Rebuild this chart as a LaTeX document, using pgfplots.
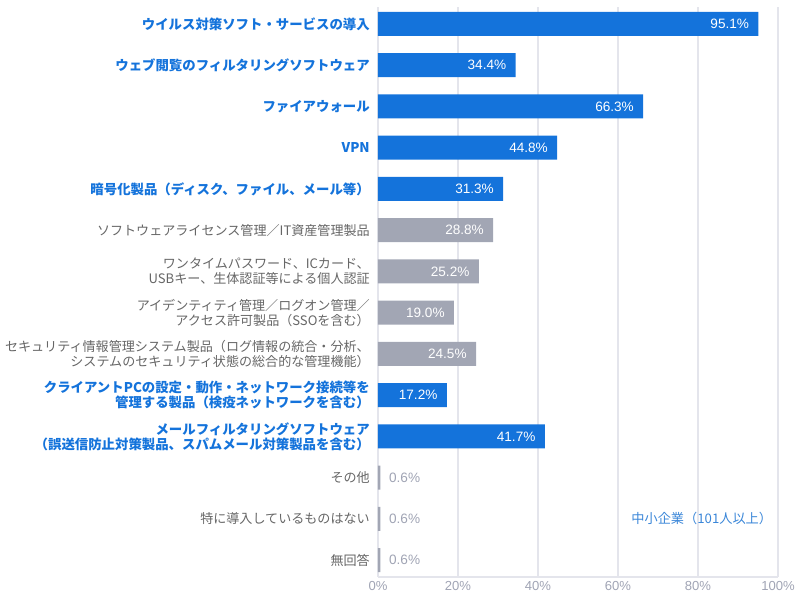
\documentclass[border=0pt]{standalone}
\usepackage{pgfplots}
\pgfplotsset{compat=1.18}
\usepackage{fontspec}
\setmainfont{Noto Sans CJK JP}
\newfontfamily\num{Liberation Sans}
\definecolor{jblue}{HTML}{1473DB}
\definecolor{jgray}{HTML}{A2A6B4}
\definecolor{lgray}{HTML}{666666}
\definecolor{tgray}{HTML}{A0A4B4}
\definecolor{gridc}{HTML}{E4E5EC}
\definecolor{annot}{HTML}{3A86D8}
\newcommand{\B}[1]{\textcolor{jblue}{\fontsize{10.05}{11.3}\selectfont\bfseries #1}}
\newcommand{\G}[1]{\textcolor{lgray}{#1}}
\begin{document}
\begin{tikzpicture}
\useasboundingbox (0pt,0pt) rectangle (600pt,450pt);
\begin{axis}[
  at={(283.5pt,17.25pt)}, anchor=south west,
  scale only axis, width=300pt, height=427.5pt,
  xmin=0, xmax=100, ymin=-0.41, ymax=13.41, y dir=reverse,
  xbar, bar width=18pt, bar shift=0pt,
  axis line style={draw=none},
  xmajorgrids, ymajorgrids=false, grid style={draw=gridc, line width=1pt},
  xtick={0,20,...,100}, xticklabel={\pgfmathprintnumber{\tick}\%},
  /pgf/number format/assume math mode=true,
  xticklabel style={font=\num\fontsize{9.8}{11}\selectfont, text=tgray},
  ytick={0,...,13}, major tick length=0pt,
  yticklabel style={align=right, font=\fontsize{9.8}{11.3}\selectfont, inner sep=0pt, xshift=-6pt},
  yticklabels={
    {\B{ウイルス対策ソフト・サービスの導入}},
    {\B{ウェブ閲覧のフィルタリングソフトウェア}},
    {\B{ファイアウォール}},
    {\B{VPN}},
    {\B{暗号化製品（ディスク、ファイル、メール等）}},
    {\G{ソフトウェアライセンス管理／IT資産管理製品}},
    {\G{ワンタイムパスワード、ICカード、}\\\G{USBキー、生体認証等による個人認証}},
    {\G{アイデンティティ管理／ログオン管理／}\\\G{アクセス許可製品（SSOを含む）}},
    {\G{セキュリティ情報管理システム製品（ログ情報の統合・分析、}\\\G{システムのセキュリティ状態の総合的な管理機能）}},
    {\B{クライアントPCの設定・動作・ネットワーク接続等を}\\\B{管理する製品（検疫ネットワークを含む）}},
    {\B{メールフィルタリングソフトウェア}\\\B{（誤送信防止対策製品、スパムメール対策製品を含む）}},
    {\G{その他}},
    {\G{特に導入しているものはない}},
    {\G{無回答}}
  },
  nodes near coords={\pgfmathprintnumber[fixed,precision=1,fixed zerofill]{\pgfplotspointmeta}\%},
  point meta=x,
]
\draw[gridc, line width=1.2pt] (axis cs:0,13.41) -- (axis cs:100,13.41);
\addplot[fill=jblue, draw=none, nodes near coords style={anchor=east, xshift=-3.5pt, text=white, font=\num\fontsize{10.2}{12}\selectfont}]
  coordinates {(95.1,0) (34.4,1) (66.3,2) (44.8,3) (31.3,4) (17.2,9) (41.7,10)};
\addplot[fill=jgray, draw=none, nodes near coords style={anchor=east, xshift=-3.5pt, text=white, font=\num\fontsize{10.2}{12}\selectfont}]
  coordinates {(28.8,5) (25.2,6) (19.0,7) (24.5,8)};
\addplot[fill=jgray, draw=none, nodes near coords style={anchor=west, xshift=3pt, text=tgray, font=\num\fontsize{10.2}{12}\selectfont}]
  coordinates {(0.6,11) (0.6,12) (0.6,13)};
\node[anchor=east, text=annot, font=\fontsize{9.9}{11}\selectfont, inner sep=0pt] at (axis cs:98.6,12) {中小企業（101人以上）};
\end{axis}
\end{tikzpicture}
\end{document}
